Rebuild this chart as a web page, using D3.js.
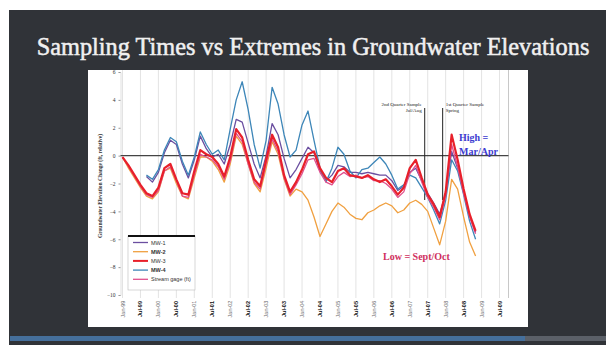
<!DOCTYPE html>
<html>
<head>
<meta charset="utf-8">
<script src="https://cdn.jsdelivr.net/npm/d3@7"></script>
<style>
  body { margin: 0; background: #fff; }
  svg { display: block; }
</style>
</head>
<body>
<svg width="606" height="345"></svg>
<script>
// months since Jan-99, sampled every 2 months
const months = [0,2,4,6,8,10,12,14,16,18,20,22,24,26,28,30,32,34,36,38,
  40,42,44,46,48,50,52,54,56,58,60,62,64,66,68,70,72,74,76,78,
  80,82,84,86,88,90,92,94,96,98,100,102,104,106,108,110,112,114,116,118]

// water level change (ft)
const mw1 = [null,null,null,null,-1.5,-1.9,-1.2,0.2,1.1,0.8,
  -0.6,-1.6,-0.3,1.4,0.5,-0.1,0.1,-0.6,0.8,2.6,
  2.4,0.9,-0.6,-1.6,0.0,2.3,1.5,-0.2,-1.6,-1.0,
  -0.2,0.6,0.2,-1.1,-1.8,-1.4,-0.7,-0.8,-1.2,-1.2,
  -1.3,-1.2,-1.3,-1.4,-1.4,-1.8,-2.5,-2.2,-1.2,-0.9,
  -1.8,-2.7,-3.4,-4.2,-2.7,0.3,-0.9,-2.6,-4.3,-5.5]
const mw2 = [-0.1,-0.9,-1.6,-2.3,-2.9,-3.1,-2.6,-1.1,-0.9,-2.0,
  -2.9,-3.1,-1.6,-0.1,-0.1,-0.4,-1.0,-1.9,-0.6,1.4,
  0.8,-0.6,-2.0,-2.6,-0.9,1.0,0.1,-1.7,-2.9,-2.4,
  -2.6,-3.2,-4.4,-5.8,-4.9,-4.0,-3.4,-3.7,-4.2,-4.5,
  -4.6,-4.1,-3.9,-3.6,-3.4,-3.6,-4.1,-3.9,-3.4,-3.2,
  -3.5,-4.0,-5.2,-6.4,-4.7,-1.7,-2.4,-4.4,-6.2,-7.2]
const mw3 = [-0.1,-0.7,-1.4,-2.1,-2.7,-2.9,-2.3,-0.9,-0.6,-1.7,
  -2.7,-2.8,-1.1,0.4,0.1,-0.1,-0.6,-1.5,-0.1,1.9,
  1.3,-0.3,-1.7,-2.2,-0.3,1.5,0.6,-1.4,-2.6,-1.9,
  -1.0,0.1,0.3,-0.9,-1.6,-1.9,-1.1,-0.9,-1.4,-1.5,
  -1.6,-1.4,-1.7,-1.9,-1.7,-2.2,-2.8,-2.3,-0.9,-0.3,
  -1.6,-2.8,-3.5,-4.4,-2.6,1.5,-0.3,-2.4,-4.2,-5.4]
const mw4 = [null,null,null,null,-1.4,-1.7,-1.0,0.4,1.3,1.0,
  -0.4,-1.4,-0.1,1.7,0.8,0.1,0.4,-0.3,1.9,4.0,
  5.3,3.3,0.8,-0.9,1.1,4.9,3.7,1.5,-0.1,0.4,
  2.2,3.2,1.1,-0.9,-1.9,-0.9,0.6,0.1,-1.1,-1.6,
  -1.0,-0.9,-0.5,-0.1,-0.6,-1.4,-2.4,-2.1,-1.4,-1.6,
  -2.3,-3.0,-3.9,-4.9,-3.2,-0.3,-1.1,-2.8,-4.7,-6.0]
const gage = [-0.1,-0.8,-1.5,-2.2,-2.8,-3.0,-2.5,-1.1,-0.8,-1.8,
  -2.9,-3.0,-1.4,0.1,-0.1,-0.3,-0.8,-1.7,-0.4,1.6,
  1.0,-0.6,-1.9,-2.4,-0.6,1.2,0.3,-1.6,-2.8,-2.1,
  -1.3,-0.3,-0.2,-1.2,-1.9,-2.1,-1.5,-1.2,-1.5,-1.4,
  -1.6,-1.5,-1.8,-1.8,-2.0,-2.4,-3.0,-2.6,-1.3,-0.7,
  -1.9,-3.0,-3.7,-4.6,-2.9,0.8,-0.8,-2.7,-4.4,-5.6]

const seriesNames = ['MW-1', 'MW-2', 'MW-3', 'MW-4', 'Stream gage (ft)']
const seriesValues = [mw1, mw2, mw3, mw4, gage]
const seriesColors = ['#6b4fa0', '#f0a040', '#e8202a', '#3d86b8', '#e0508e']
const drawOrder = [1, 0, 3, 4, 2]

const tickMonths = [0,6,12,18,24,30,36,42,48,54,60,66,72,78,84,90,96,102,108,114,120,126]
const tickLabels = ['Jan-99','Jul-99','Jan-00','Jul-00','Jan-01','Jul-01','Jan-02','Jul-02',
  'Jan-03','Jul-03','Jan-04','Jul-04','Jan-05','Jul-05','Jan-06','Jul-06','Jan-07','Jul-07',
  'Jan-08','Jul-08','Jan-09','Jul-09']
const yTicks = [6, 4, 2, 0, -2, -4, -6, -8, -10]

const sampleEvents = [101, 107]
const sampleLabels = [['2nd Quarter Sample', 'Jul/Aug'], ['1st Quarter Sample', 'Spring']]

let svg = d3.select('svg')

// slide background
svg.append('rect').attr('width', 606).attr('height', 345).attr('fill', '#fff')
svg.append('rect').attr('x', 9).attr('y', 10).attr('width', 597).attr('height', 335).attr('fill', '#303338')
svg.append('rect').attr('x', 10).attr('y', 336).attr('width', 515).attr('height', 5).attr('fill', '#456f9b')
svg.append('rect').attr('x', 525).attr('y', 336).attr('width', 81).attr('height', 5).attr('fill', '#5b6068')

let title = svg.append('text')
  .attr('x', 313).attr('y', 55)
  .attr('text-anchor', 'middle')
  .attr('font-family', 'Liberation Serif, serif')
  .attr('font-size', 22)
  .attr('fill', '#f0f0f0')
  .attr('stroke', '#f0f0f0')
  .attr('stroke-width', 0.5)
  .text('Sampling Times vs Extremes in Groundwater Elevations')
let tw = title.node().getComputedTextLength()
title.attr('font-size', 22 * 553 / tw)

// chart panel
svg.append('rect').attr('x', 88).attr('y', 70).attr('width', 440).attr('height', 257).attr('fill', '#fff')

let x = d3.scaleLinear().domain([0, 129]).range([122.5, 508.5])
let y = d3.scaleLinear().domain([-10, 6]).range([295, 72])

let g = svg.append('g')

// vertical grid
g.append('g').selectAll('line')
  .data(tickMonths)
  .enter().append('line')
  .attr('x1', d => x(d)).attr('x2', d => x(d))
  .attr('y1', y(6) - 2).attr('y2', y(-10) + 3)
  .attr('stroke', '#dcdcdc').attr('stroke-width', 0.8)

g.append('line')
  .attr('x1', x(129)).attr('x2', x(129))
  .attr('y1', y(6) - 2).attr('y2', y(-10) + 3)
  .attr('stroke', '#c8c8c8')

// y axis
let yAxis = g.append('g')
  .attr('transform', `translate(${x(0) - 2},0)`)
  .call(d3.axisLeft(y).tickValues(yTicks).tickSize(2).tickPadding(3))
yAxis.select('.domain').attr('stroke', '#e0e0e0')
yAxis.selectAll('.tick line').attr('stroke', '#999')
yAxis.selectAll('text').attr('font-size', 5.5).attr('font-family', 'Liberation Serif, serif').attr('fill', '#333')

svg.append('text')
  .attr('transform', 'translate(102,186) rotate(-90)')
  .attr('text-anchor', 'middle')
  .attr('font-family', 'Liberation Serif, serif')
  .attr('font-size', 5.5)
  .attr('font-weight', 'bold')
  .attr('fill', '#333')
  .text('Groundwater Elevation Change (ft, relative)')

// x tick labels (rotated)
g.append('g').selectAll('text')
  .data(tickMonths)
  .enter().append('text')
  .attr('transform', d => `translate(${x(d) + 2},309) rotate(-90)`)
  .attr('text-anchor', 'middle')
  .attr('font-family', 'Liberation Sans, sans-serif')
  .attr('font-size', 5.5)
  .attr('font-weight', (d, i) => i % 2 ? 'bold' : 'normal')
  .attr('fill', (d, i) => i % 2 ? '#111' : '#666')
  .text((d, i) => tickLabels[i])

// zero reference line
g.append('line')
  .attr('x1', x(0) - 2).attr('x2', x(129))
  .attr('y1', y(0)).attr('y2', y(0))
  .attr('stroke', '#444').attr('stroke-width', 1.3)

// sampling event lines
sampleEvents.forEach((m, i) => {
  g.append('line')
    .attr('x1', x(m)).attr('x2', x(m))
    .attr('y1', 108).attr('y2', 200)
    .attr('stroke', '#222').attr('stroke-width', 1)
  let anchor = i === 0 ? 'end' : 'start'
  let tx = i === 0 ? x(m) - 3 : x(m) + 3
  sampleLabels[i].forEach((s, j) => {
    g.append('text')
      .attr('x', tx).attr('y', 106 + j * 6)
      .attr('text-anchor', anchor)
      .attr('font-family', 'Liberation Serif, serif')
      .attr('font-size', 5)
      .attr('fill', '#222')
      .text(s)
  })
})

// series lines
let line = d3.line()
  .defined(d => d[1] !== null)
  .x(d => x(d[0]))
  .y(d => y(d[1]))

drawOrder.forEach(k => {
  let pts = months.map((m, i) => [m, seriesValues[k][i]])
  g.append('path')
    .datum(pts)
    .attr('d', line)
    .attr('fill', 'none')
    .attr('stroke', seriesColors[k])
    .attr('stroke-width', k === 2 ? 2.2 : 1.3)
    .attr('stroke-linejoin', 'round')
})

// annotations
svg.append('text')
  .attr('x', 459).attr('y', 141)
  .attr('font-family', 'Liberation Serif, serif')
  .attr('font-size', 10).attr('font-weight', 'bold')
  .attr('fill', '#3b3bd0')
  .text('High =')
svg.append('text')
  .attr('x', 459).attr('y', 155)
  .attr('font-family', 'Liberation Serif, serif')
  .attr('font-size', 10).attr('font-weight', 'bold')
  .attr('fill', '#3b3bd0')
  .text('Mar/Apr')
svg.append('text')
  .attr('x', 383).attr('y', 260)
  .attr('font-family', 'Liberation Serif, serif')
  .attr('font-size', 10).attr('font-weight', 'bold')
  .attr('fill', '#d0305e')
  .text('Low = Sept/Oct')

// legend
let lg = svg.append('g').attr('transform', 'translate(128,236)')
lg.append('rect').attr('width', 67).attr('height', 54).attr('fill', '#fff')
  .attr('stroke', '#bbb').attr('stroke-width', 0.6)
lg.append('line').attr('x1', 0).attr('x2', 67).attr('y1', 0).attr('y2', 0)
  .attr('stroke', '#111').attr('stroke-width', 2)
seriesNames.forEach((name, i) => {
  let ly = 6.5 + i * 9.2
  lg.append('line')
    .attr('x1', 5).attr('x2', 20).attr('y1', ly).attr('y2', ly)
    .attr('stroke', seriesColors[i]).attr('stroke-width', i === 2 ? 2 : 1.3)
  lg.append('text')
    .attr('x', 23).attr('y', ly + 2)
    .attr('font-family', 'Liberation Sans, sans-serif')
    .attr('font-size', 5.5)
    .attr('font-weight', i % 2 ? 'bold' : 'normal')
    .attr('fill', '#333')
    .text(name)
})
</script>
</body>
</html>
